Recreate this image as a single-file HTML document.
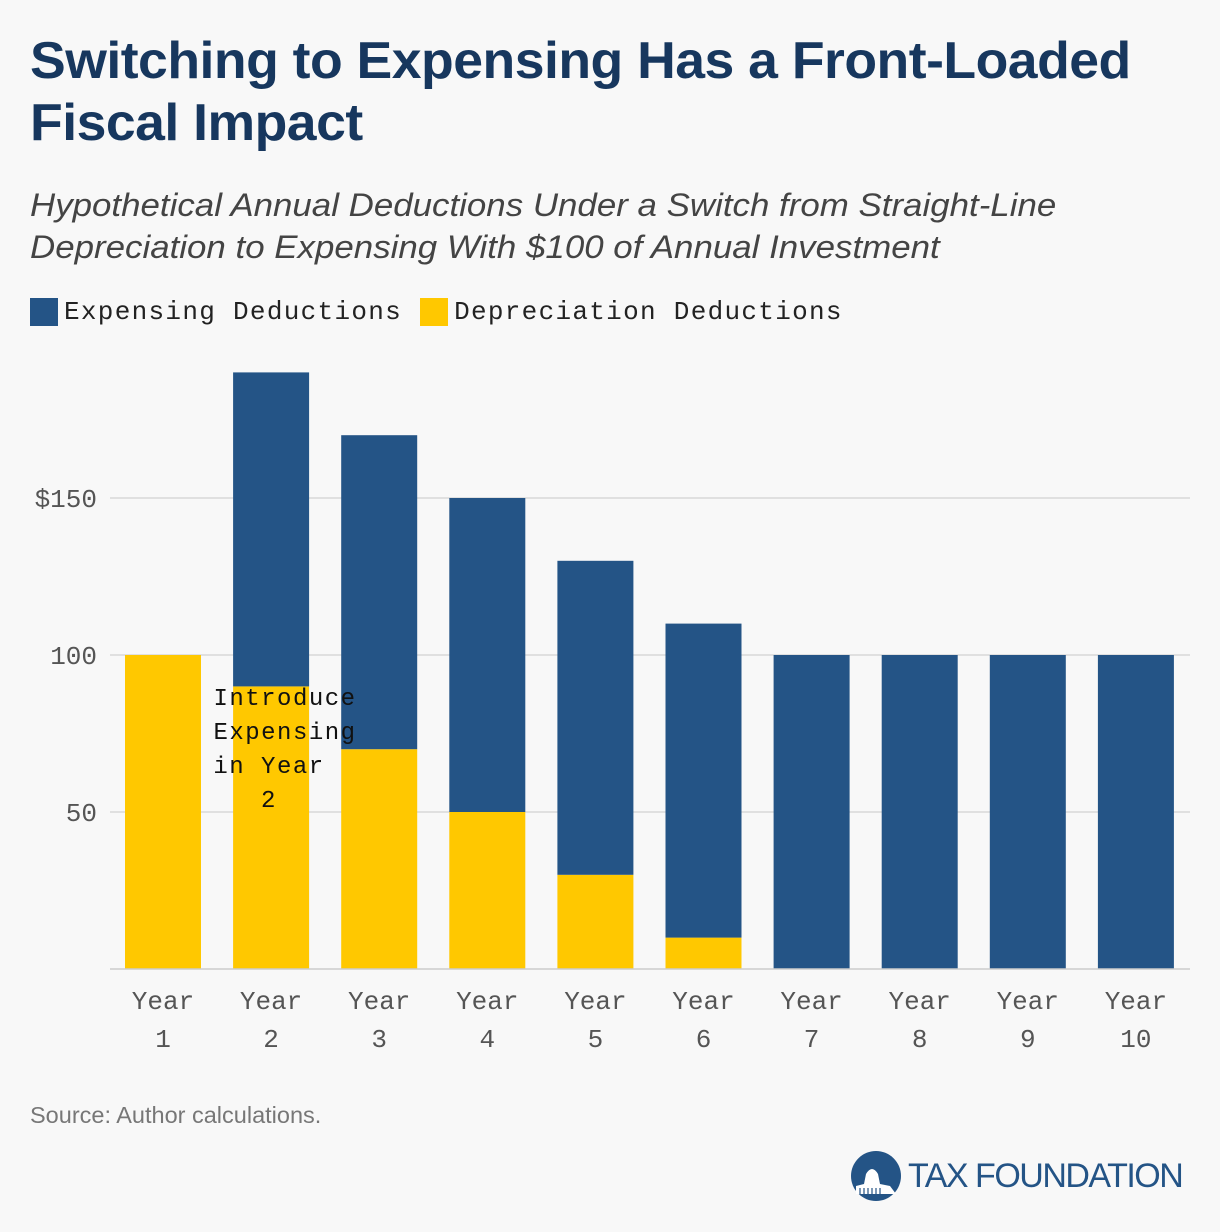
<!DOCTYPE html>
<html><head><meta charset="utf-8"><style>
body{margin:0;width:1220px;height:1232px;background:#f8f8f8;position:relative;overflow:hidden;font-family:"Liberation Sans",sans-serif}
.abs{position:absolute;margin:0}
</style></head><body>
<h1 class="abs" style="left:30px;top:30px;font-size:52px;line-height:62px;color:#17375e;font-weight:bold;letter-spacing:-0.5px;transform:scaleX(1.03);transform-origin:0 0;white-space:nowrap">Switching to Expensing Has a Front-Loaded<br>Fiscal Impact</h1>
<div class="abs" style="left:30px;top:184px;font-size:32px;line-height:42px;color:#444;font-style:italic;transform:scaleX(1.09);transform-origin:0 0;white-space:nowrap">Hypothetical Annual Deductions Under a Switch from Straight-Line<br>Depreciation to Expensing With $100 of Annual Investment</div>
<div class="abs" style="left:30px;top:297px;font-family:'Liberation Mono',monospace;font-size:26px;color:#222;display:flex;align-items:center;letter-spacing:1.3px">
<span style="width:28px;height:28px;background:#245486;margin-right:6px"></span><span style="margin-right:18px">Expensing Deductions</span>
<span style="width:28px;height:28px;background:#ffc800;margin-right:6px"></span><span>Depreciation Deductions</span></div>
<svg id="chart" class="abs" style="left:0;top:0" width="1220" height="1232"></svg>
<div class="abs" style="left:30px;top:1102px;font-size:23.5px;color:#777">Source: Author calculations.</div>
<div class="abs" style="left:850px;top:1150px;display:flex;align-items:center">
<svg width="52" height="52" viewBox="0 0 52 52"><circle cx="26" cy="26" r="25" fill="#245486"/><path d="M6 44 L6 36 L14 34 L16 24 Q22 14 28 24 L30 34 L40 36 L46 44 Z" fill="#fff"/><g stroke="#245486" stroke-width="1.2"><line x1="10" y1="38" x2="10" y2="44"/><line x1="14" y1="38" x2="14" y2="44"/><line x1="18" y1="38" x2="18" y2="44"/><line x1="22" y1="38" x2="22" y2="44"/><line x1="26" y1="38" x2="26" y2="44"/><line x1="30" y1="38" x2="30" y2="44"/></g></svg>
<span style="margin-left:6px;font-size:34px;color:#245486;letter-spacing:-1.5px">TAX FOUNDATION</span></div>
<script>
const categories=["1","2","3","4","5","6","7","8","9","10"];
const depreciation=[100,90,70,50,30,10,0,0,0,0];
const expensing=[0,100,100,100,100,100,100,100,100,100];
const yTicks=[50,100,150];
const yTickLabels=["50","100","$150"];
const ns="http://www.w3.org/2000/svg";
const svg=document.getElementById('chart');
const y0=969,k=3.14;
const y=v=>y0-v*k;
const xc=i=>163+i*108.1;
const bw=76;
function mk(t,a){const e=document.createElementNS(ns,t);for(const n in a)e.setAttribute(n,a[n]);svg.appendChild(e);return e;}
yTicks.forEach((v,i)=>{
 const l=mk('line',{x1:110,x2:1190,y1:y(v),y2:y(v),stroke:'#d8d8d8','stroke-width':1.5});
 
 
 const t=mk('text',{x:97,y:y(v)+9,'text-anchor':'end','font-family':'Liberation Mono,monospace','font-size':26,fill:'#555'});
 t.textContent=yTickLabels[i];
 
 
});
categories.forEach((c,i)=>{
 const d=depreciation[i],e=expensing[i];
 if(d>0){const r=mk('rect',{x:xc(i)-bw/2,y:y(d),width:bw,height:d*k,fill:'#ffc800'});
 
 }
 if(e>0){const r=mk('rect',{x:xc(i)-bw/2,y:y(d+e),width:bw,height:e*k,fill:'#245486'});
 
 }
 const t=mk('text',{x:xc(i),y:1009,'text-anchor':'middle','font-family':'Liberation Mono,monospace','font-size':26,fill:'#555'});
 
 
 t.innerHTML='<tspan x="'+xc(i)+'">Year</tspan><tspan x="'+xc(i)+'" dy="38">'+c+'</tspan>';
});
const base=mk('line',{x1:110,x2:1190,y1:y0,y2:y0,stroke:'#ccc','stroke-width':1.5});


const ann=mk('text',{'font-family':'Liberation Mono,monospace','font-size':24,fill:'#111','text-anchor':'middle','letter-spacing':1.5});


ann.innerHTML='<tspan x="285" y="705">Introduce</tspan><tspan x="285" dy="34">Expensing</tspan><tspan x="269" dy="34">in Year</tspan><tspan x="269" dy="34">2</tspan>';
</script>
</body></html>
